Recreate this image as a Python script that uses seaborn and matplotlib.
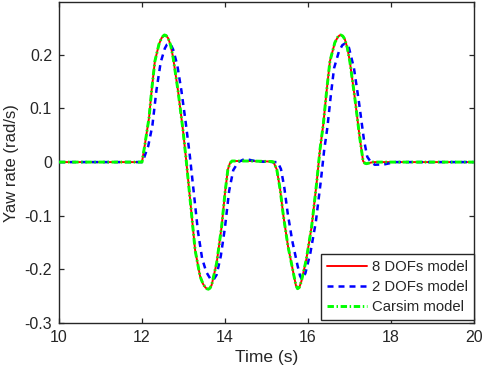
import numpy as np
import pandas as pd
import seaborn as sns
import matplotlib
matplotlib.use("Agg")
import matplotlib.pyplot as plt

# values
t_8dof = [10.0, 12.0, 12.07, 12.17, 12.23, 12.31, 12.41, 12.47, 12.51, 12.54, 12.58, 12.63, 12.69, 12.75,
          12.87, 12.99, 13.07, 13.12, 13.2, 13.28, 13.4, 13.47, 13.52, 13.56, 13.6, 13.64, 13.68,
          13.8, 13.92, 14.0, 14.07, 14.12, 14.17, 14.6, 15.13, 15.17, 15.25, 15.33, 15.41, 15.52, 15.65,
          15.71, 15.75, 15.79, 15.84, 15.96, 16.09, 16.21, 16.29, 16.37, 16.45, 16.53, 16.65,
          16.72, 16.76, 16.79, 16.84, 16.89, 16.95, 17.01, 17.13, 17.25, 17.33, 17.37, 17.41, 17.57, 20.0]
yaw_8dof = [0.0, 0.0, 0.033, 0.083, 0.132, 0.188, 0.22, 0.231, 0.235, 0.237, 0.236, 0.231, 0.218, 0.195,
            0.132, 0.058, 0.0, -0.039, -0.101, -0.164, -0.213, -0.227, -0.233, -0.236, -0.237, -0.235, -0.229,
            -0.188, -0.12, -0.058, -0.014, -0.002, 0.002, 0.002, 0.001, 0.0, -0.014, -0.051, -0.101, -0.157, -0.207,
            -0.23, -0.236, -0.234, -0.223, -0.182, -0.12, -0.039, 0.023, 0.07, 0.132, 0.188, 0.223,
            0.233, 0.236, 0.237, 0.235, 0.229, 0.213, 0.188, 0.12, 0.045, 0.002, -0.002, -0.003, 0.0, 0.0]

t_carsim = t_8dof
yaw_carsim = yaw_8dof

t_2dof = [10.0, 12.0, 12.05, 12.15, 12.25, 12.35, 12.45, 12.55, 12.6, 12.65, 12.7, 12.75, 12.85, 12.95,
          13.05, 13.15, 13.25, 13.35, 13.45, 13.55, 13.65, 13.72, 13.8, 13.9, 14.0, 14.1,
          14.2, 14.32, 14.48, 14.6, 14.8, 15.2, 15.27, 15.35, 15.43, 15.51, 15.62, 15.75,
          15.81, 15.85, 15.89, 15.94, 16.06, 16.19, 16.31, 16.39, 16.47, 16.55, 16.63, 16.75, 16.83, 16.89, 16.94,
          16.99, 17.11, 17.23, 17.35, 17.43, 17.5, 17.61, 17.86, 18.1, 20.0]
yaw_2dof = [0.0, 0.0, 0.008, 0.03, 0.068, 0.135, 0.186, 0.212, 0.219, 0.221, 0.218, 0.21, 0.181, 0.133,
            0.076, 0.014, -0.058, -0.13, -0.18, -0.205, -0.218, -0.22, -0.21, -0.175, -0.122, -0.054,
            -0.015, 0.0, 0.006, 0.004, 0.001, 0.0, 0.0, -0.013, -0.047, -0.094, -0.146, -0.193,
            -0.212, -0.218, -0.215, -0.207, -0.169, -0.112, -0.036, 0.021, 0.065, 0.123, 0.175, 0.207, 0.218, 0.221, 0.219,
            0.213, 0.175, 0.112, 0.042, 0.01, 0.002, -0.005, -0.004, 0.0, 0.0]

labels = ["8 DOFs model", "2 DOFs model", "Carsim model"]

sns.set_style("white")
plt.rcParams['font.family'] = ['Liberation Sans', 'DejaVu Sans']
edge = "#262626"

fig = plt.figure(figsize=(4.84, 3.76), dpi=100)
ax = fig.add_axes([0.122, 0.141, 0.857, 0.853])

sns.lineplot(x=t_8dof, y=yaw_8dof, ax=ax, color="#ff0000", linewidth=1.4,
             label=labels[0], sort=False)
sns.lineplot(x=t_2dof, y=yaw_2dof, ax=ax, color="#0000ff", linewidth=1.8,
             label=labels[1], sort=False, linestyle=(0, (2.4, 2.0)))
sns.lineplot(x=t_carsim, y=yaw_carsim, ax=ax, color="#00ff00", linewidth=2.1,
             label=labels[2], sort=False, linestyle=(0, (2.2, 0.9, 0.5, 0.9)))
ax.lines[0].set_zorder(2.5)
ax.lines[1].set_zorder(2.6)
ax.lines[2].set_zorder(3)

ax.set_xlim(10, 20)
ax.set_ylim(-0.3, 0.298)
ax.set_xticks(np.arange(10, 21, 2))
ax.set_yticks([-0.3, -0.2, -0.1, 0, 0.1, 0.2])
ax.set_yticklabels(["-0.3", "-0.2", "-0.1", "0", "0.1", "0.2"])

ax.tick_params(direction="in", length=3.5, width=0.9, colors=edge, labelcolor=edge,
               labelsize=11.5, top=True, right=True, bottom=True, left=True, pad=5)
for s in ax.spines.values():
    s.set_color(edge)
    s.set_linewidth(1.0)

ax.set_xlabel("Time (s)", fontsize=12.5, color=edge, labelpad=4)
ax.set_ylabel("Yaw rate (rad/s)", fontsize=12, color=edge, labelpad=4)

leg = ax.legend(loc="lower right", bbox_to_anchor=(1.0, 0.01), borderaxespad=0, fontsize=10.7,
                fancybox=False, framealpha=1, edgecolor=edge, handlelength=2.7,
                handletextpad=0.3, labelspacing=0.4, borderpad=0.4)
leg.get_frame().set_linewidth(1.0)
for txt in leg.get_texts():
    txt.set_color(edge)

fig.savefig("out.png", dpi=100)
